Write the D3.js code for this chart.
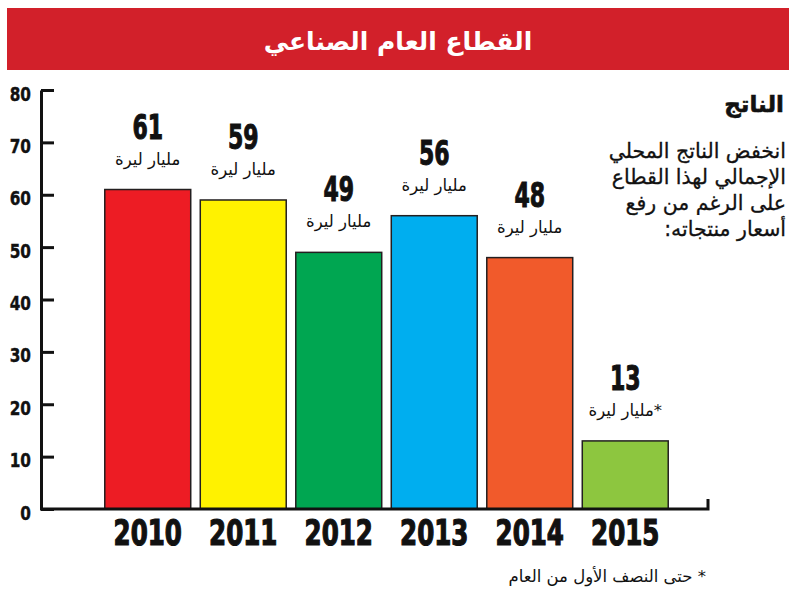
<!DOCTYPE html>
<html>
<head>
<meta charset="utf-8">
<script src="https://cdn.jsdelivr.net/npm/d3@7"></script>
<style>
  body { margin: 0; background: #fff; }
  svg { display: block; }
  .num { font-family: "Liberation Sans Narrow", "DejaVu Sans Condensed", "Arial Narrow", sans-serif; font-weight: bold; }
  .ar { font-family: "DejaVu Sans", "Noto Sans", sans-serif; }
</style>
</head>
<body>
<svg id="chart"></svg>
<script>
const width = 800;
const height = 605;

// data
const years = ["2010", "2011", "2012", "2013", "2014", "2015"];
const values = [61, 59, 49, 56, 48, 13];
const units = ["مليار ليرة", "مليار ليرة", "مليار ليرة", "مليار ليرة", "مليار ليرة", "مليار ليرة*"];
const colors = ["#ed1c24", "#fff200", "#00a651", "#00aeef", "#f15a2b", "#8dc63f"];
const yTicks = [0, 10, 20, 30, 40, 50, 60, 70, 80];
const title = "القطاع العام الصناعي";
const sideTitle = "الناتج";
const sideLines = ["انخفض الناتج المحلي", "الإجمالي لهذا القطاع", "على الرغم من رفع", "أسعار منتجاته:\u200F"];
const footnote = "حتى النصف الأول من العام *";

const svg = d3.select("#chart").attr("width", width).attr("height", height);

// header band
svg.append("rect")
  .attr("x", 7).attr("y", 8)
  .attr("width", 782).attr("height", 62)
  .attr("fill", "#d2202a");
svg.append("text")
  .attr("class", "ar")
  .attr("x", 398).attr("y", 50)
  .attr("text-anchor", "middle")
  .attr("fill", "#fff")
  .attr("font-size", 25)
  .attr("font-weight", "bold")
  .text(title);

const x = d3.scaleBand()
  .domain(years)
  .range([100, 673])
  .paddingInner(0.1)
  .paddingOuter(0.05);

const y = d3.scaleLinear().domain([0, 80]).range([509, 90]);

// bars
svg.append("g")
  .selectAll("rect")
  .data(years)
  .join("rect")
  .attr("x", d => x(d))
  .attr("y", (d, i) => y(values[i]))
  .attr("width", x.bandwidth())
  .attr("height", (d, i) => y(0) - y(values[i]))
  .attr("fill", (d, i) => colors[i])
  .attr("stroke", "#231f20")
  .attr("stroke-width", 1.5);

// value labels (condensed by squeezing horizontally)
svg.append("g")
  .selectAll("text")
  .data(years)
  .join("text")
  .attr("class", "num")
  .attr("transform", (d, i) => `translate(${x(d) + x.bandwidth() / 2},${y(values[i]) - 51}) scale(0.72,1)`)
  .attr("text-anchor", "middle")
  .attr("font-size", 34)
  .attr("stroke", "#111").attr("stroke-width", 1)
  .attr("fill", "#111")
  .text((d, i) => values[i]);

svg.append("g")
  .selectAll("text")
  .data(years)
  .join("text")
  .attr("class", "ar")
  .attr("x", d => x(d) + x.bandwidth() / 2)
  .attr("y", (d, i) => y(values[i]) - 25)
  .attr("text-anchor", "middle")
  .attr("font-size", 16.5)
  .attr("fill", "#111")
  .text((d, i) => units[i]);

// y axis
const yAxis = svg.append("g")
  .attr("transform", "translate(41,0)")
  .call(d3.axisLeft(y).tickValues(yTicks).tickSize(-13).tickSizeOuter(0).tickPadding(10));
yAxis.select(".domain").attr("stroke", "#111").attr("stroke-width", 3);
yAxis.selectAll(".tick line").attr("stroke", "#111").attr("stroke-width", 3);
yAxis.selectAll(".tick text")
  .attr("class", "num")
  .attr("font-size", 20)
  .attr("fill", "#111")
  .attr("stroke", "#111").attr("stroke-width", 0.4)
  .attr("x", -10 / 0.85)
  .attr("transform", "scale(0.85,1)")
  .attr("dy", "0.5em");

// baseline with small upturn at the end
svg.append("path")
  .attr("d", `M40,${y(0)}H708V${y(0) - 10}`)
  .attr("fill", "none")
  .attr("stroke", "#111")
  .attr("stroke-width", 3);

// year labels
const xAxis = svg.append("g")
  .attr("transform", `translate(0,${y(0)})`)
  .call(d3.axisBottom(x).tickSize(0).tickPadding(36));
xAxis.select(".domain").remove();
xAxis.selectAll(".tick text")
  .attr("class", "num")
  .attr("font-size", 35)
  .attr("fill", "#111")
  .attr("stroke", "#111").attr("stroke-width", 1.2)
  .attr("transform", "scale(0.78,1)")
  .attr("dy", 0);

// side note
svg.append("text")
  .attr("class", "ar")
  .attr("x", 784).attr("y", 112)
  .attr("text-anchor", "end")
  .attr("font-size", 23)
  .attr("font-weight", "bold")
  .attr("stroke", "#111").attr("stroke-width", 0.6)
  .attr("fill", "#111")
  .text(sideTitle);

svg.append("g")
  .selectAll("text")
  .data(sideLines)
  .join("text")
  .attr("class", "ar")
  .attr("x", 786)
  .attr("y", (d, i) => 158 + i * 26)
  .attr("text-anchor", "end")
  .attr("font-size", 20.5)
  .attr("fill", "#111")
  .attr("stroke", "#111").attr("stroke-width", 0.3)
  .text(d => d);

svg.append("text")
  .attr("class", "ar")
  .attr("x", 706).attr("y", 582)
  .attr("text-anchor", "end")
  .attr("font-size", 16.5)
  .attr("fill", "#111")
  .text(footnote);
</script>
</body>
</html>
